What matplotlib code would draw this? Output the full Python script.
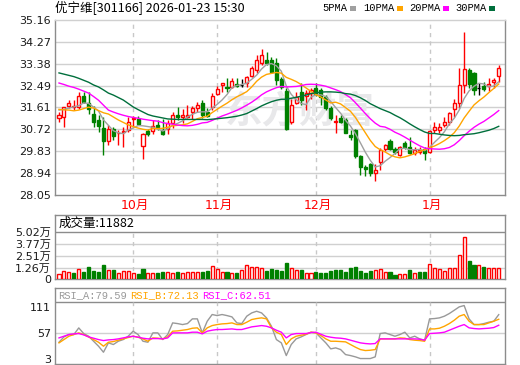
import matplotlib.pyplot as plt
from matplotlib.patches import Rectangle
import numpy as np

plt.rcParams['font.family'] = ['DejaVu Sans', 'Noto Sans CJK SC']

title = "优宁维[301166] 2026-01-23 15:30"
watermark = "东方财富"
month_labels = ["10月", "11月", "12月", "1月"]
month_idx = [15, 32, 52, 75]

open_ = [31.16, 31.23, 31.68, 31.61, 31.64, 32.07, 31.80, 31.34, 31.09, 30.79,
         30.25, 30.75, 30.55, 30.62, 30.69, 31.12, 31.12, 30.06, 30.66, 30.66,
         30.89, 30.71, 30.75, 30.98, 31.30, 31.23, 31.22, 31.43, 31.57, 31.77,
         31.43, 31.64, 32.15, 32.52, 32.45, 32.45, 32.56, 32.53, 32.59, 32.88,
         33.13, 33.43, 33.54, 33.54, 33.43, 32.75, 32.29, 31.02, 31.77, 32.25,
         32.07, 32.18, 32.38, 32.31, 32.04, 31.57, 31.00, 31.19, 31.09, 30.48,
         30.68, 29.63, 29.19, 29.30, 28.95, 29.40, 29.92, 30.26, 29.90, 29.68,
         30.17, 30.01, 29.77, 29.78, 29.90, 29.81, 30.69, 30.69, 30.89, 31.03,
         31.54, 31.77, 32.52, 33.13, 32.99, 32.41, 32.48, 32.49, 32.63, 32.90]
high = [31.43, 31.64, 31.93, 31.91, 32.22, 32.25, 32.22, 31.66, 31.30, 31.20,
        30.89, 30.82, 30.69, 30.82, 31.23, 31.25, 31.25, 30.58, 30.75, 31.09,
        31.09, 31.12, 31.09, 31.43, 31.61, 31.53, 31.70, 31.66, 31.84, 31.91,
        31.60, 32.18, 32.48, 32.61, 32.82, 32.79, 32.79, 32.76, 32.89, 33.29,
        33.74, 33.97, 33.87, 33.64, 33.60, 32.85, 32.38, 31.97, 32.25, 32.59,
        32.31, 32.38, 32.59, 32.38, 32.11, 31.66, 31.30, 31.30, 31.16, 30.68,
        30.75, 29.67, 29.26, 29.36, 29.30, 29.95, 30.14, 30.31, 29.99, 30.04,
        30.26, 30.42, 29.99, 30.01, 30.01, 30.69, 31.00, 30.96, 31.23, 31.41,
        31.95, 33.22, 34.66, 33.20, 33.06, 32.59, 32.63, 32.81, 32.81, 33.33]
low = [31.02, 30.82, 31.57, 31.50, 31.53, 31.77, 31.36, 30.82, 30.62, 29.69,
       30.07, 30.28, 30.07, 29.98, 30.62, 30.82, 30.89, 29.53, 30.44, 30.52,
       30.71, 30.48, 30.52, 30.79, 31.09, 30.96, 31.16, 31.12, 31.43, 31.16,
       31.20, 31.50, 32.11, 32.25, 32.25, 32.38, 32.45, 32.42, 32.45, 32.83,
       32.99, 33.33, 33.33, 32.99, 32.52, 32.35, 30.68, 30.95, 31.73, 31.70,
       31.50, 31.97, 32.07, 31.70, 31.50, 31.09, 30.58, 30.98, 30.55, 30.28,
       29.57, 28.85, 28.81, 28.81, 28.62, 29.05, 29.85, 29.88, 29.72, 29.63,
       29.91, 29.72, 29.68, 29.72, 29.47, 29.74, 30.56, 30.56, 30.83, 30.89,
       31.23, 31.57, 32.18, 32.38, 32.11, 32.11, 32.27, 32.27, 32.41, 32.63]
close = [31.30, 31.61, 31.77, 31.66, 32.07, 31.84, 31.53, 31.02, 30.86, 30.25,
         30.75, 30.44, 30.58, 30.66, 31.02, 31.16, 30.93, 30.52, 30.52, 30.85,
         30.82, 30.52, 30.98, 31.30, 31.20, 31.30, 31.30, 31.57, 31.70, 31.30,
         31.26, 32.07, 32.34, 32.59, 32.38, 32.69, 32.49, 32.53, 32.86, 33.20,
         33.54, 33.74, 33.43, 33.06, 32.72, 32.45, 30.75, 31.70, 32.04, 31.91,
         32.18, 32.31, 32.15, 32.04, 31.57, 31.16, 31.07, 31.02, 30.58, 30.41,
         29.63, 29.19, 29.12, 28.95, 29.05, 29.88, 30.08, 29.91, 29.78, 29.99,
         30.01, 29.77, 29.88, 29.86, 29.75, 30.65, 30.83, 30.83, 31.03, 31.37,
         31.77, 32.52, 33.17, 32.55, 32.32, 32.41, 32.36, 32.58, 32.72, 33.20]

ma5 = [31.50, 31.53, 31.58, 31.63, 31.68, 31.79, 31.77, 31.62, 31.46, 31.10,
       30.88, 30.66, 30.58, 30.54, 30.69, 30.77, 30.87, 30.86, 30.83, 30.80,
       30.73, 30.65, 30.74, 30.89, 30.96, 31.06, 31.22, 31.33, 31.41, 31.43,
       31.43, 31.58, 31.73, 31.91, 32.13, 32.41, 32.50, 32.54, 32.59, 32.75,
       32.92, 33.17, 33.35, 33.39, 33.30, 33.08, 32.48, 32.14, 31.93, 31.77,
       31.72, 32.03, 32.12, 32.12, 32.05, 31.85, 31.60, 31.37, 31.08, 30.85,
       30.54, 30.17, 29.79, 29.46, 29.19, 29.24, 29.42, 29.57, 29.74, 29.93,
       29.95, 29.89, 29.89, 29.90, 29.85, 29.98, 30.19, 30.38, 30.62, 30.94,
       31.17, 31.50, 31.97, 32.28, 32.47, 32.59, 32.56, 32.44, 32.48, 32.65]
ma10 = [31.53, 31.51, 31.50, 31.47, 31.50, 31.56, 31.62, 31.58, 31.48, 31.39,
        31.34, 31.22, 31.10, 31.00, 30.90, 30.83, 30.77, 30.72, 30.69, 30.75,
        30.75, 30.76, 30.80, 30.86, 30.88, 30.90, 30.94, 31.04, 31.15, 31.20,
        31.25, 31.40, 31.53, 31.66, 31.78, 31.92, 32.04, 32.14, 32.25, 32.44,
        32.67, 32.84, 32.95, 32.99, 33.03, 33.00, 32.83, 32.75, 32.66, 32.54,
        32.40, 32.26, 32.13, 32.03, 31.91, 31.79, 31.82, 31.75, 31.60, 31.45,
        31.20, 30.89, 30.58, 30.27, 30.02, 29.89, 29.80, 29.68, 29.60, 29.56,
        29.60, 29.66, 29.73, 29.82, 29.89, 29.97, 30.04, 30.14, 30.26, 30.40,
        30.58, 30.85, 31.18, 31.45, 31.71, 31.88, 32.03, 32.21, 32.38, 32.56]
ma20 = [32.60, 32.54, 32.47, 32.42, 32.35, 32.27, 32.19, 32.05, 31.90, 31.70,
        31.50, 31.42, 31.35, 31.29, 31.24, 31.20, 31.17, 31.13, 31.10, 31.07,
        31.05, 30.99, 30.95, 30.93, 30.89, 30.87, 30.86, 30.88, 30.92, 30.98,
        31.00, 31.08, 31.17, 31.26, 31.33, 31.41, 31.49, 31.59, 31.70, 31.82,
        31.96, 32.12, 32.24, 32.33, 32.41, 32.46, 32.44, 32.45, 32.46, 32.49,
        32.54, 32.55, 32.54, 32.51, 32.47, 32.40, 32.33, 32.25, 32.13, 32.00,
        31.80, 31.58, 31.36, 31.15, 30.97, 30.84, 30.81, 30.72, 30.60, 30.51,
        30.40, 30.28, 30.16, 30.05, 29.96, 29.93, 29.92, 29.91, 29.93, 29.98,
        30.09, 30.26, 30.46, 30.64, 30.80, 30.93, 31.04, 31.18, 31.32, 31.48]
ma30 = [33.01, 32.96, 32.91, 32.86, 32.79, 32.71, 32.63, 32.52, 32.44, 32.32,
        32.19, 32.11, 32.01, 31.91, 31.77, 31.63, 31.52, 31.42, 31.32, 31.26,
        31.22, 31.18, 31.14, 31.13, 31.12, 31.12, 31.12, 31.12, 31.12, 31.12,
        31.11, 31.13, 31.15, 31.17, 31.19, 31.22, 31.25, 31.30, 31.36, 31.46,
        31.56, 31.67, 31.76, 31.84, 31.90, 31.94, 31.94, 31.98, 32.02, 32.06,
        32.11, 32.17, 32.20, 32.23, 32.24, 32.24, 32.23, 32.21, 32.17, 32.15,
        32.09, 32.00, 31.89, 31.76, 31.66, 31.56, 31.48, 31.40, 31.29, 31.19,
        31.07, 30.94, 30.82, 30.71, 30.61, 30.55, 30.55, 30.52, 30.49, 30.47,
        30.46, 30.47, 30.50, 30.52, 30.54, 30.58, 30.63, 30.68, 30.75, 30.84]

volume = [5700, 8900, 7800, 7100, 10700, 8200, 13200, 8900, 8200, 15300,
          10000, 10000, 6400, 8900, 8900, 6400, 5700, 11000, 7100, 7100,
          7100, 7800, 7800, 7100, 7800, 6400, 7800, 7800, 7800, 7800,
          9300, 14200, 10700, 7800, 7800, 7100, 7100, 10000, 15300, 13500,
          13000, 12500, 8900, 10700, 10000, 8900, 17100, 12500, 10000, 10000,
          6400, 6400, 7800, 6800, 6800, 8900, 10000, 10000, 7800, 11700,
          13200, 8900, 7100, 8900, 10000, 10700, 7800, 7800, 4600, 5700,
          5700, 10000, 6400, 7800, 7800, 16000, 11700, 10700, 8900, 11700,
          11700, 26000, 44900, 19600, 15300, 15000, 13500, 11700, 12500, 11882]

rsi_a = [35.1, 43.7, 47.5, 47.5, 58.2, 49.1, 44.8, 36.7, 28.7, 19.0,
         34.1, 31.4, 36.7, 39.4, 44.8, 52.9, 47.5, 36.7, 35.1, 50.2,
         50.2, 39.4, 47.5, 66.3, 65.2, 63.6, 65.2, 72.8, 72.8, 50.2,
         69.0, 79.8, 78.1, 79.8, 78.1, 76.0, 66.3, 65.2, 77.1, 82.4,
         85.1, 82.4, 74.4, 60.9, 39.4, 34.1, 13.6, 31.4, 40.5, 43.7,
         47.5, 51.3, 50.2, 42.1, 34.1, 24.4, 26.0, 23.3, 15.2, 13.6,
         11.5, 8.8, 8.8, 8.8, 11.5, 49.1, 50.2, 47.5, 44.8, 47.5,
         51.3, 42.1, 44.8, 40.5, 38.4, 72.8, 73.3, 74.4, 77.1, 81.4,
         86.7, 92.1, 94.3, 72.8, 63.6, 63.6, 65.2, 67.4, 69.0, 79.59]
rsi_b = [34.1, 39.4, 44.8, 47.5, 50.2, 47.5, 43.7, 39.4, 35.1, 28.7,
         35.1, 36.2, 38.4, 40.5, 42.7, 44.8, 43.2, 40.5, 36.7, 42.1,
         41.6, 40.5, 43.7, 52.9, 53.4, 54.5, 55.6, 57.7, 58.3, 50.2,
         58.3, 62.0, 63.6, 64.7, 65.2, 66.3, 63.6, 63.6, 67.4, 71.7,
         73.3, 74.4, 72.8, 58.3, 51.3, 47.5, 31.4, 40.5, 44.8, 46.4,
         48.0, 51.3, 50.2, 45.9, 40.5, 36.7, 36.7, 36.2, 35.7, 31.4,
         27.1, 23.3, 21.7, 22.2, 23.3, 40.5, 40.5, 40.5, 40.5, 42.1,
         41.6, 39.4, 38.4, 37.8, 36.7, 56.6, 56.6, 57.7, 60.9, 65.2,
         70.6, 77.1, 79.8, 69.0, 63.6, 63.6, 63.6, 66.3, 69.0, 72.13]
rsi_c = [42.1, 44.8, 47.5, 48.6, 49.1, 47.0, 43.7, 41.6, 39.4, 37.8,
         38.9, 39.4, 40.5, 42.1, 43.7, 44.8, 43.2, 41.6, 40.5, 41.0,
         41.0, 40.5, 42.1, 50.2, 50.2, 50.2, 50.2, 51.3, 51.3, 48.6,
         52.9, 54.5, 55.6, 55.6, 56.1, 56.6, 55.6, 55.6, 57.7, 59.9,
         60.9, 62.0, 60.9, 58.3, 54.5, 51.3, 42.1, 47.5, 49.1, 49.1,
         49.1, 50.7, 51.3, 48.0, 44.8, 43.2, 42.1, 41.6, 40.5, 38.4,
         36.2, 34.1, 33.0, 32.4, 33.0, 40.5, 40.5, 40.5, 40.5, 40.5,
         40.5, 40.5, 40.5, 40.0, 38.4, 49.1, 49.6, 50.2, 51.3, 54.5,
         57.7, 60.9, 63.6, 58.3, 57.2, 56.6, 57.2, 57.7, 58.8, 62.51]

price_ticks = [35.16, 34.27, 33.38, 32.49, 31.61, 30.72, 29.83, 28.94, 28.05]
vol_ticks = [0, 12550, 25100, 37650, 50200]
vol_tick_labels = ["0", "1.26万", "2.51万", "3.77万", "5.02万"]
rsi_tick_labels = ["3", "57", "111"]

W, H = 520, 365
RED, GREEN = "#ff0000", "#008000"
FRAME = "#8c8c8c"
GRID = "#d0d0d0"
ma_colors = ["#a0a0a0", "#ffa500", "#ff00ff", "#006f3c"]


def px_axes(fig, left, top, right, bottom):
    return fig.add_axes([left / W, 1 - bottom / H, (right - left) / W, (bottom - top) / H])


def style(ax):
    for s in ax.spines.values():
        s.set_color(FRAME)
        s.set_linewidth(1)
    ax.tick_params(length=0, labelsize=8, pad=3, colors="#1a1a1a")
    ax.set_xticks([])


fig = plt.figure(figsize=(W / 100, H / 100), dpi=100)
fig.patch.set_facecolor("white")

n = len(close)
x = np.arange(n)
o = np.array(open_)
c = np.array(close)
hi = np.array(high)
lo = np.array(low)
up = c > o
dn = c < o
flat = c == o
xlim = (-0.81, n + 0.27)
bw = 0.62

# ---- price panel
ax = px_axes(fig, 55, 20, 505, 195)
style(ax)
ax.spines["top"].set_color(GRID)
ax.set_xlim(*xlim)
ax.set_ylim(price_ticks[-1], price_ticks[0])
ax.set_yticks(price_ticks)
ax.set_yticklabels([f"{t:.2f}" for t in price_ticks])
for t in price_ticks[1:-1]:
    ax.axhline(t, color=GRID, lw=1, zorder=0)
for m in month_idx:
    ax.axvline(m, color="#c8c8c8", lw=1, ls=(0, (3, 3)), zorder=0)

# faint watermark, kept under the candles
ax.text(300 / W, 1 - 112 / H, watermark, transform=fig.transFigure, fontsize=27,
        fontweight="bold", color="#e8e8ea", ha="center", va="center",
        family=["Noto Sans CJK SC"], zorder=1)

body_top = np.maximum(o, c)
body_bot = np.minimum(o, c)
cols = np.where(up, RED, np.where(dn, GREEN, "black"))
ax.vlines(x, lo, body_bot, color=cols, lw=1, zorder=2)
ax.vlines(x, body_top, hi, color=cols, lw=1, zorder=2)
ax.bar(x[up], (c - o)[up], bottom=o[up], width=bw, facecolor="white", edgecolor=RED, lw=1, zorder=3)
ax.bar(x[dn], (o - c)[dn], bottom=c[dn], width=bw, facecolor=GREEN, edgecolor=GREEN, lw=1, zorder=3)
ax.hlines(c[flat], x[flat] - bw / 2, x[flat] + bw / 2, color="black", lw=1, zorder=3)

for vals, col in zip([ma5, ma10, ma20, ma30], ma_colors):
    ax.plot(x, vals, color=col, lw=1, zorder=4)

for m, lab in zip(month_idx, month_labels):
    ax.text(m + 0.4, 28.05 - 0.42, lab, color=RED, fontsize=9, ha="center", va="center",
            family=["DejaVu Sans", "Noto Sans CJK SC"])

# ---- volume panel
vmax_shown = 50200
axv = px_axes(fig, 55, 215, 505, 279.3)
style(axv)
axv.set_xlim(*xlim)
axv.set_ylim(0, vmax_shown * 64.3 / 47.0)
axv.set_yticks(vol_ticks)
axv.set_yticklabels(vol_tick_labels)
for t in vol_ticks[1:-1]:
    axv.axhline(t, color=GRID, lw=1, zorder=0)
axv.axhline(vmax_shown, color=FRAME, lw=1, zorder=0)
for m in month_idx:
    axv.axvline(m, color="#c8c8c8", lw=1, ls=(0, (3, 3)), ymax=47.0 / 64.3, zorder=0)
vol = np.array(volume)
prev = np.r_[o[0], c[:-1]]
vup = c >= prev
axv.bar(x[vup], vol[vup], width=bw, facecolor="white", edgecolor=RED, lw=1, zorder=3)
axv.bar(x[~vup], vol[~vup], width=bw, facecolor=GREEN, edgecolor=GREEN, lw=1, zorder=3)
axv.text(0.007, 0.87, f"成交量:{volume[-1]}", transform=axv.transAxes, fontsize=9,
         va="center", ha="left", family=["Noto Sans CJK SC"])

# ---- RSI panel
axr = px_axes(fig, 55, 288, 505, 364)
style(axr)
axr.set_xlim(*xlim)
rsi_top = 100 + 14 * 100 / 62
axr.set_ylim(0, rsi_top)
axr.set_yticks([8, 50, 92])
axr.set_yticklabels(rsi_tick_labels)
axr.axhline(50, color=GRID, lw=1, zorder=0)
axr.axhline(100, color=FRAME, lw=1, zorder=0)
for m in month_idx:
    axr.axvline(m, color="#c8c8c8", lw=1, ls=(0, (3, 3)), ymax=100 / rsi_top, zorder=0)
rsi_colors = ["#999999", "#ffa500", "#ff00ff"]
for vals, col in zip([rsi_a, rsi_b, rsi_c], rsi_colors):
    axr.plot(x, vals, color=col, lw=1, zorder=3)
hx = 58
for name, vals, col in zip(["RSI_A", "RSI_B", "RSI_C"], [rsi_a, rsi_b, rsi_c], rsi_colors):
    fig.text(hx / W, 1 - 295 / H, f"{name}:{vals[-1]:.2f}", color=col, fontsize=7.5,
             va="center", ha="left", family="Liberation Mono")
    hx += 72

# ---- title and legend
fig.text(55 / W, 1 - 8 / H, title, fontsize=9, va="center", ha="left",
         family=["Noto Sans CJK SC"])
lx = [322, 363, 409, 455]
for lab, col, xx in zip(["5PMA", "10PMA", "20PMA", "30PMA"], ma_colors, lx):
    fig.text(xx / W, 1 - 8 / H, lab, fontsize=7.5, va="center", ha="left", family="Liberation Mono")
    sq = xx + 6 * len(lab) + 4
    fig.patches.append(Rectangle((sq / W, 1 - 10.5 / H), 6 / W, 5 / H, transform=fig.transFigure,
                                 facecolor=col, edgecolor="none"))

fig.savefig("out.png", dpi=100)
